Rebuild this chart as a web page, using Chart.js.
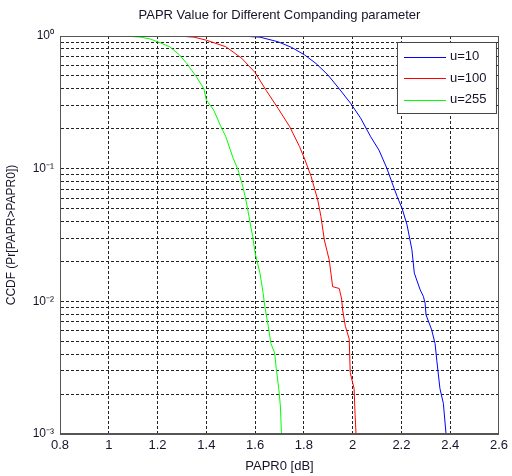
<!DOCTYPE html>
<html>
<head>
<meta charset="utf-8">
<script src="https://cdn.jsdelivr.net/npm/chart.js@4/dist/chart.umd.min.js"></script>
<style>
html,body{margin:0;padding:0;background:#fff;}
#wrap{width:512px;height:476px;position:relative;}
</style>
</head>
<body>
<div id="wrap"><canvas id="c" width="512" height="476"></canvas></div>
<script>
// ---- data ----
const seriesLabels = ['u=10', 'u=100', 'u=255'];
const seriesColors = ['#0000ff', '#ff0000', '#00ff00'];

const paprU10 = [1.44, 1.55, 1.62, 1.694, 1.75, 1.803, 1.85, 1.898, 1.945, 1.992, 2.033, 2.074, 2.108, 2.141, 2.162, 2.182, 2.203, 2.223, 2.243, 2.253, 2.277, 2.29, 2.297, 2.301, 2.324, 2.338, 2.345, 2.358, 2.372, 2.383];
const ccdfU10 = [1, 0.997, 0.98, 0.905, 0.82, 0.72, 0.62, 0.51, 0.40, 0.31, 0.24, 0.174, 0.138, 0.1, 0.078, 0.062, 0.05, 0.0377, 0.0245, 0.0163, 0.0122, 0.0109, 0.0097, 0.0079, 0.0061, 0.0048, 0.0036, 0.0022, 0.0017, 0.001];

const paprU100 = [1.2, 1.3, 1.35, 1.40, 1.48, 1.545, 1.6, 1.645, 1.694, 1.742, 1.782, 1.805, 1.83, 1.857, 1.87, 1.884, 1.904, 1.918, 1.945, 1.955, 1.959, 1.97, 1.986, 1.99, 2.006, 2.01, 2.014];
const ccdfU100 = [1, 0.995, 0.98, 0.93, 0.83, 0.68, 0.53, 0.39, 0.285, 0.207, 0.147, 0.116, 0.087, 0.058, 0.0435, 0.029, 0.0205, 0.0129, 0.0125, 0.0104, 0.0086, 0.0065, 0.0052, 0.0029, 0.0022, 0.0014, 0.001];

const paprU255 = [1.0, 1.08, 1.13, 1.17, 1.21, 1.25, 1.29, 1.32, 1.36, 1.39, 1.40, 1.43, 1.46, 1.48, 1.51, 1.53, 1.55, 1.565, 1.575, 1.59, 1.60, 1.62, 1.633, 1.64, 1.654, 1.665, 1.68, 1.687, 1.697, 1.704, 1.708];
const ccdfU255 = [1, 0.995, 0.98, 0.95, 0.89, 0.83, 0.72, 0.62, 0.49, 0.40, 0.33, 0.277, 0.207, 0.174, 0.12, 0.098, 0.073, 0.055, 0.0435, 0.0307, 0.0232, 0.0163, 0.0115, 0.0091, 0.0065, 0.0048, 0.0041, 0.0031, 0.0022, 0.0016, 0.001];

const xTickValues = [0.8, 1, 1.2, 1.4, 1.6, 1.8, 2, 2.2, 2.4, 2.6];
const yDecades = [0.001, 0.01, 0.1, 1];
const yDecadeLabels = ['10\u207B\u00B3', '10\u207B\u00B2', '10\u207B\u00B9', '10\u2070'];
const yMinorFactors = [2, 3, 4, 5, 6, 7, 8, 9];

// ---- build ----
function pts(xs, ys) { return xs.map((x, i) => ({x: x, y: ys[i]})); }
const allX = [paprU10, paprU100, paprU255];
const allY = [ccdfU10, ccdfU100, ccdfU255];
const datasets = seriesLabels.map((lab, i) => ({
  label: lab,
  data: pts(allX[i], allY[i]),
  borderColor: seriesColors[i],
  backgroundColor: seriesColors[i],
  borderWidth: 1,
  pointRadius: 0,
  tension: 0,
  fill: false
}));

const yTickValues = [];
yDecades.forEach((d, i) => {
  yTickValues.push(d);
  if (i < yDecades.length - 1) yMinorFactors.forEach(f => yTickValues.push(+(d * f).toPrecision(3)));
});

const FONT = "'Liberation Sans', Arial, sans-serif";
const TXT = '#15152a';

const boxLegend = {
  id: 'boxLegend',
  afterDraw(chart) {
    const ctx = chart.ctx;
    const a = chart.chartArea;
    // axes box
    ctx.save();
    ctx.strokeStyle = '#555';
    ctx.lineWidth = 1;
    ctx.strokeRect(Math.round(a.left) + 0.5, Math.round(a.top) + 0.5, Math.round(a.right - a.left) - 1, Math.round(a.bottom - a.top) - 1);
    // legend
    const lx = a.right - 102, ly = a.top + 6, lw = 99, lh = 71;
    ctx.fillStyle = '#fff';
    ctx.fillRect(lx, ly, lw, lh);
    ctx.strokeStyle = '#444';
    ctx.strokeRect(lx + 0.5, ly + 0.5, lw, lh);
    ctx.font = '13px ' + FONT;
    ctx.textBaseline = 'middle';
    chart.data.datasets.forEach((ds, i) => {
      const yy = ly + 14.5 + i * 21.5;
      ctx.strokeStyle = ds.borderColor;
      ctx.lineWidth = 1.2;
      ctx.beginPath();
      ctx.moveTo(lx + 7, Math.round(yy) + 0.5);
      ctx.lineTo(lx + 49, Math.round(yy) + 0.5);
      ctx.stroke();
      ctx.fillStyle = TXT;
      ctx.fillText(ds.label, lx + 53, yy);
    });
    ctx.restore();
  }
};

new Chart(document.getElementById('c'), {
  type: 'line',
  data: { datasets: datasets },
  options: {
    responsive: false,
    animation: false,
    layout: { padding: { left: 0, right: 9, top: 0, bottom: 0 } },
    plugins: {
      legend: { display: false },
      tooltip: { enabled: false },
      title: {
        display: true,
        fullSize: false,
        text: 'PAPR Value for Different Companding parameter',
        color: TXT,
        font: { family: FONT, size: 13, weight: 'normal' },
        padding: { top: 8, bottom: 12.4 }
      }
    },
    scales: {
      x: {
        type: 'linear',
        min: 0.8, max: 2.6,
        afterBuildTicks(s) { s.ticks = xTickValues.map(v => ({value: v})); },
        afterFit(s) { s.height = 42; },
        ticks: {
          color: TXT,
          font: { family: FONT, size: 13 },
          padding: 4,
          maxRotation: 0,
          autoSkip: false,
          callback: v => String(+v.toFixed(1))
        },
        grid: { color: '#222', lineWidth: 1, drawTicks: false },
        border: { display: true, color: '#555', dash: [3, 2] },
        title: {
          display: true, text: 'PAPR0 [dB]', color: TXT,
          font: { family: FONT, size: 13 },
          padding: { top: 2, bottom: 2 }
        }
      },
      y: {
        type: 'logarithmic',
        min: 0.001, max: 1,
        afterBuildTicks(s) { s.ticks = yTickValues.map(v => ({value: v})); },
        afterFit(s) { s.width = 60; },
        ticks: {
          color: TXT,
          font: { family: FONT, size: 12 },
          padding: 6,
          autoSkip: false,
          callback: function (v) {
            const k = yDecades.findIndex(d => Math.abs(d - v) < d * 1e-6);
            return k >= 0 ? yDecadeLabels[k] : '';
          }
        },
        grid: { color: '#222', lineWidth: 1, drawTicks: false },
        border: { display: true, color: '#555', dash: [3, 2] },
        title: {
          display: true, text: 'CCDF (Pr[PAPR>PAPR0])', color: TXT,
          font: { family: FONT, size: 12 },
          padding: { top: 4, bottom: 0 }
        }
      }
    }
  },
  plugins: [boxLegend]
});
</script>
</body>
</html>
